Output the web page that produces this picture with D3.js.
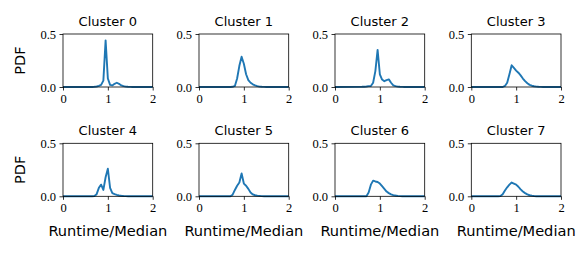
<!DOCTYPE html>
<html>
<head>
<meta charset="utf-8">
<script src="https://cdn.jsdelivr.net/npm/d3@7"></script>
<style>
  body { margin: 0; background: #fff; }
  svg { display: block; }
</style>
</head>
<body>
<div id="chart"></div>
<script>
'use strict'

// runtime / median grid shared by all clusters
const xGrid = [0, 0.6, 0.65, 0.7, 0.75, 0.8, 0.85, 0.9, 0.95, 1.0, 1.05, 1.1,
  1.15, 1.2, 1.25, 1.3, 1.35, 1.4, 1.45, 1.5, 1.55, 1.6, 2]

const cluster0 = [0, 0, 0, 0.002, 0.005, 0.01, 0.02, 0.06, 0.44, 0.08, 0.02, 0.015, 0.03, 0.04, 0.03, 0.015, 0.008, 0.004, 0.002, 0.001, 0, 0, 0]
const cluster1 = [0, 0, 0, 0, 0.002, 0.01, 0.08, 0.2, 0.285, 0.22, 0.12, 0.065, 0.04, 0.025, 0.015, 0.008, 0.004, 0.002, 0.001, 0, 0, 0, 0]
const cluster2 = [0, 0.002, 0.003, 0.005, 0.008, 0.01, 0.04, 0.15, 0.35, 0.12, 0.07, 0.055, 0.065, 0.072, 0.04, 0.015, 0.008, 0.004, 0.002, 0.001, 0, 0, 0]
const cluster3 = [0, 0, 0, 0, 0.01, 0.04, 0.12, 0.205, 0.18, 0.155, 0.135, 0.11, 0.08, 0.055, 0.035, 0.02, 0.012, 0.007, 0.004, 0.002, 0.001, 0, 0]
const cluster4 = [0, 0, 0, 0.003, 0.02, 0.08, 0.11, 0.06, 0.18, 0.26, 0.08, 0.03, 0.02, 0.013, 0.008, 0.005, 0.003, 0.002, 0.001, 0, 0, 0, 0]
const cluster5 = [0, 0, 0, 0, 0.015, 0.06, 0.1, 0.13, 0.215, 0.12, 0.1, 0.07, 0.035, 0.018, 0.01, 0.006, 0.004, 0.002, 0.001, 0, 0, 0, 0]
const cluster6 = [0, 0, 0, 0, 0.035, 0.11, 0.148, 0.14, 0.135, 0.12, 0.095, 0.07, 0.045, 0.03, 0.018, 0.011, 0.007, 0.004, 0.002, 0.001, 0, 0, 0]
const cluster7 = [0, 0, 0.003, 0.02, 0.055, 0.085, 0.11, 0.13, 0.12, 0.11, 0.09, 0.065, 0.045, 0.03, 0.018, 0.01, 0.006, 0.003, 0.001, 0, 0, 0, 0]

const clusters = [cluster0, cluster1, cluster2, cluster3, cluster4, cluster5, cluster6, cluster7]
const titles = ["Cluster 0", "Cluster 1", "Cluster 2", "Cluster 3", "Cluster 4", "Cluster 5", "Cluster 6", "Cluster 7"]

const xTicks = [0, 1, 2]
const yTicks = [0, 0.5]

const width = 581, height = 256
const plotW = 89.7, plotH = 53
const lefts = [63, 199, 335, 471.3]
const tops = [34, 143.3]

const svg = d3.select("#chart").append("svg").attr("width", width).attr("height", height)

const xScale = d3.scaleLinear().domain([0, 2]).range([0, plotW])
const yScale = d3.scaleLinear().domain([0, 0.5]).range([plotH, 0])

const line = d3.line()
  .x(function(d, i){ return xScale(xGrid[i]) })
  .y(function(d){ return yScale(d) })

clusters.forEach(function(vals, k){
  let col = k % 4, row = Math.floor(k / 4)
  let g = svg.append("g").attr("transform", "translate(" + lefts[col] + "," + tops[row] + ")")

  g.append("path")
    .datum(vals)
    .attr("d", line)
    .attr("fill", "none")
    .attr("stroke", "#1f77b4")
    .attr("stroke-width", 1.9)
    .attr("stroke-linejoin", "round")

  g.append("rect")
    .attr("width", plotW).attr("height", plotH)
    .attr("fill", "none").attr("stroke", "#000").attr("stroke-width", 0.8)

  let xa = g.append("g").attr("transform", "translate(0," + plotH + ")")
    .call(d3.axisBottom(xScale).tickValues(xTicks).tickFormat(d3.format("d")).tickSize(3.5).tickPadding(3.5))
  let ya = g.append("g")
    .call(d3.axisLeft(yScale).tickValues(yTicks).tickFormat(d3.format(".1f")).tickSize(3.5).tickPadding(3.5))
  ;[xa, ya].forEach(function(a){
    a.attr("font-family", null).attr("font-size", null)
    a.select(".domain").remove()
    a.selectAll(".tick line").attr("stroke", "#000").attr("stroke-width", 0.8)
    a.selectAll(".tick text")
      .style("font-family", "'Liberation Serif', serif")
      .style("font-size", "12.5px")
      .attr("fill", "#000")
  })

  g.append("text")
    .attr("x", plotW / 2).attr("y", -8)
    .attr("text-anchor", "middle")
    .style("font-family", "'DejaVu Sans', sans-serif").style("font-size", "13px")
    .text(titles[k])

  if (col == 0){
    g.append("text")
      .attr("transform", "translate(-38," + (plotH / 2) + ") rotate(-90)")
      .attr("text-anchor", "middle")
      .style("font-family", "'DejaVu Sans', sans-serif").style("font-size", "14.6px")
      .text("PDF")
  }
  if (row == 1){
    g.append("text")
      .attr("x", plotW / 2).attr("y", plotH + 39.5)
      .attr("text-anchor", "middle")
      .style("font-family", "'DejaVu Sans', sans-serif").style("font-size", "14.6px")
      .text("Runtime/Median")
  }
})
</script>
</body>
</html>
